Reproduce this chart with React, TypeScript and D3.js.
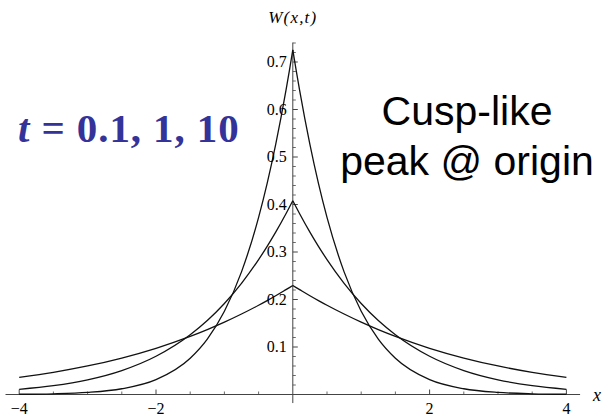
import React from "react";
import * as d3 from "d3";

const xs = [-4, -3.5, -3, -2.5, -2, -1.5, -1.25, -1, -0.75, -0.5, -0.375, -0.25, -0.1, -0.05, 0, 0.05, 0.1, 0.25, 0.375, 0.5, 0.75, 1, 1.25, 1.5, 2, 2.5, 3, 3.5, 4];
const wT01 = [0.0005, 0.0015, 0.0044, 0.0121, 0.0312, 0.0764, 0.1167, 0.1752, 0.2582, 0.3728, 0.4444, 0.5265, 0.6403, 0.682, 0.7256, 0.682, 0.6403, 0.5265, 0.4444, 0.3728, 0.2582, 0.1752, 0.1167, 0.0764, 0.0312, 0.0121, 0.0044, 0.0015, 0.0005];
const wT1 = [0.011, 0.0186, 0.031, 0.0505, 0.0806, 0.1259, 0.1558, 0.1917, 0.2341, 0.284, 0.3119, 0.3418, 0.3805, 0.3941, 0.408, 0.3941, 0.3805, 0.3418, 0.3119, 0.284, 0.2341, 0.1917, 0.1558, 0.1259, 0.0806, 0.0505, 0.031, 0.0186, 0.011];
const wT10 = [0.036, 0.0467, 0.0601, 0.0768, 0.0973, 0.1223, 0.1366, 0.1523, 0.1694, 0.1879, 0.1977, 0.2079, 0.2207, 0.225, 0.2294, 0.225, 0.2207, 0.2079, 0.1977, 0.1879, 0.1694, 0.1523, 0.1366, 0.1223, 0.0973, 0.0768, 0.0601, 0.0467, 0.036];
const seriesList = [wT01, wT1, wT10];

const xMajor = [-4, -2, 2, 4];
const xMajorLabels = ["\u22124", "\u22122", "2", "4"];
const yMajor = [0.1, 0.2, 0.3, 0.4, 0.5, 0.6, 0.7];
const yMajorLabels = ["0.1", "0.2", "0.3", "0.4", "0.5", "0.6", "0.7"];

export default function App() {
  const W = 605, H = 418;
  const x = d3.scaleLinear().domain([-4, 4]).range([19.2, 566.4]);
  const y = d3.scaleLinear().domain([0, 0.7]).range([394.5, 62]);
  const x0 = x(0), y0 = y(0);

  const xMinor = d3.range(-4, 4.001, 0.5).filter((v) => Math.abs(v) > 1e-9 && !xMajor.includes(v));
  const yMinor = d3.range(0.02, 0.741, 0.02).filter((v) => !yMajor.some((m) => Math.abs(m - v) < 1e-6));

  const line = d3
    .line<[number, number]>()
    .x((d) => x(d[0]))
    .y((d) => y(d[1]))
    .curve(d3.curveMonotoneX);

  const paths: string[] = [];
  seriesList.forEach((s) => {
    const pts: [number, number][] = xs.map((v, i) => [v, s[i]]);
    paths.push(line(pts.filter((p) => p[0] <= 0)) || "");
    paths.push(line(pts.filter((p) => p[0] >= 0)) || "");
  });

  const serif = "'Liberation Serif', 'Times New Roman', serif";
  const sans = "'Liberation Sans', Arial, sans-serif";

  return (
    <svg width={W} height={H} style={{ position: "absolute", left: 0, top: 0, background: "#fff" }}>
      <rect x={0} y={0} width={W} height={H} fill="#fff" />
      {/* axes */}
      <line x1={x(-4.2)} x2={x(4.2)} y1={y0} y2={y0} stroke="#444" strokeWidth={1} />
      <line x1={x0} x2={x0} y1={y(-0.018)} y2={y(0.741)} stroke="#444" strokeWidth={1} />
      {/* x ticks */}
      {xMajor.map((v) => (
        <line key={"xM" + v} x1={x(v)} x2={x(v)} y1={y0} y2={y0 - 5} stroke="#444" strokeWidth={1} />
      ))}
      {xMinor.map((v) => (
        <line key={"xm" + v} x1={x(v)} x2={x(v)} y1={y0} y2={y0 - 3} stroke="#444" strokeWidth={0.8} />
      ))}
      {/* y ticks */}
      {yMajor.map((v) => (
        <line key={"yM" + v} x1={x0} x2={x0 + 5} y1={y(v)} y2={y(v)} stroke="#444" strokeWidth={1} />
      ))}
      {yMinor.map((v) => (
        <line key={"ym" + v} x1={x0} x2={x0 + 3} y1={y(v)} y2={y(v)} stroke="#444" strokeWidth={0.8} />
      ))}
      {/* curves */}
      {paths.map((d, i) => (
        <path key={"p" + i} d={d} fill="none" stroke="#111" strokeWidth={1.3} />
      ))}
      {/* tick labels */}
      {xMajor.map((v, i) => (
        <text key={"xl" + v} x={x(v)} y={414} textAnchor="middle" fontFamily={serif} fontSize={16} fill="#000">
          {xMajorLabels[i]}
        </text>
      ))}
      {yMajor.map((v, i) => (
        <text key={"yl" + v} x={x0 - 6} y={y(v) + 5} textAnchor="end" fontFamily={serif} fontSize={16} fill="#000">
          {yMajorLabels[i]}
        </text>
      ))}
      {/* axis labels */}
      <text x={x0} y={23} textAnchor="middle" fontFamily={serif} fontSize={17} fontStyle="italic" fill="#000" letterSpacing={1.2}>
        W(x,t)
      </text>
      <text x={597} y={401} textAnchor="middle" fontFamily={serif} fontSize={18} fontStyle="italic" fill="#000">
        x
      </text>
      {/* annotations */}
      <text x={18} y={142} fontFamily={serif} fontSize={41} fontWeight="bold" fill="#333399" letterSpacing={0.9}>
        <tspan fontStyle="italic">t</tspan>
        <tspan> = 0.1, 1, 10</tspan>
      </text>
      <text x={467} y={125} textAnchor="middle" fontFamily={sans} fontSize={41} fill="#000">
        Cusp-like
      </text>
      <text x={467} y={175} textAnchor="middle" fontFamily={sans} fontSize={41} fill="#000">
        peak @ origin
      </text>
    </svg>
  );
}
